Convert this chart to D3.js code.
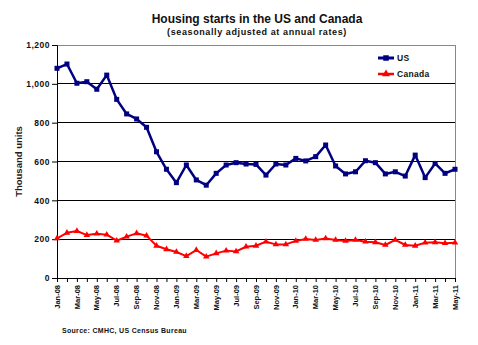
<!DOCTYPE html>
<html>
<head>
<meta charset="utf-8">
<script src="https://d3js.org/d3.v7.min.js"></script>
<style>
  body { margin: 0; background: #fff; }
  svg text { font-family: "Liberation Sans", Arial, sans-serif; font-weight: bold; }
</style>
</head>
<body>
<div id="chart"></div>
<script>
// Monthly housing starts, thousand units (SAAR)
const months = ["Jan-08","Feb-08","Mar-08","Apr-08","May-08","Jun-08","Jul-08","Aug-08","Sep-08","Oct-08","Nov-08","Dec-08",
  "Jan-09","Feb-09","Mar-09","Apr-09","May-09","Jun-09","Jul-09","Aug-09","Sep-09","Oct-09","Nov-09","Dec-09",
  "Jan-10","Feb-10","Mar-10","Apr-10","May-10","Jun-10","Jul-10","Aug-10","Sep-10","Oct-10","Nov-10","Dec-10",
  "Jan-11","Feb-11","Mar-11","Apr-11","May-11"];

const usStarts = [1080, 1102, 1003, 1011, 972, 1045, 920, 845, 819, 776, 650, 560,
  491, 582, 505, 478, 539, 582, 594, 587, 585, 530, 587, 582,
  616, 603, 625, 685, 577, 536, 547, 604, 594, 536, 547, 525,
  633, 517, 590, 539, 560];

const canadaStarts = [204, 233, 242, 221, 228, 223, 192, 213, 230, 218, 166, 148,
  134, 113, 144, 110, 127, 141, 137, 161, 166, 187, 173, 173,
  191, 201, 196, 204, 196, 191, 196, 187, 184, 170, 196, 170,
  166, 182, 184, 179, 182];

const yTicks = [0, 200, 400, 600, 800, 1000, 1200];

const W = 478, H = 345;
const m = { left: 57, right: 23, top: 45, bottom: 67 };

const svg = d3.select('#chart').append('svg')
  .attr('width', W).attr('height', H);

const x = d3.scalePoint().domain(months).range([m.left, W - m.right]);
const y = d3.scaleLinear().domain([0, 1200]).range([H - m.bottom, m.top]);

// Titles
svg.append('text').attr('x', 257).attr('y', 23).attr('text-anchor', 'middle')
  .attr('font-size', 12).attr('fill', '#111').text('Housing starts in the US and Canada');
svg.append('text').attr('x', 257).attr('y', 35).attr('text-anchor', 'middle')
  .attr('font-size', 9).attr('letter-spacing', 0.6).attr('fill', '#111')
  .text('(seasonally adjusted at annual rates)');

// Gridlines
svg.append('g').selectAll('line')
  .data(yTicks.filter(d => d > 0 && d < 1200))
  .join('line')
  .attr('x1', m.left).attr('x2', W - m.right)
  .attr('y1', d => y(d)).attr('y2', d => y(d))
  .attr('stroke', '#000').attr('stroke-width', 1).attr('shape-rendering', 'crispEdges');

// Plot frame: top and right in grey
svg.append('path')
  .attr('d', `M${m.left},${y(1200)}H${W - m.right}V${y(0)}`)
  .attr('fill', 'none').attr('stroke', '#888').attr('shape-rendering', 'crispEdges');

// Y axis
const yAxis = svg.append('g')
  .attr('transform', `translate(${m.left},0)`)
  .call(d3.axisLeft(y).tickValues(yTicks).tickSize(5).tickPadding(2).tickFormat(d3.format(',')));
yAxis.select('.domain').attr('stroke', '#000');
yAxis.selectAll('line').attr('stroke', '#000');
yAxis.selectAll('text').attr('font-size', 8.5).attr('letter-spacing', 0.5).attr('fill', '#111')
  .attr('font-family', '"Liberation Sans", Arial, sans-serif');

svg.append('text')
  .attr('transform', `translate(22,${(y(0) + y(1200)) / 2}) rotate(-90)`)
  .attr('text-anchor', 'middle').attr('font-size', 9.5).attr('fill', '#2a1a1a')
  .text('Thousand units');

// X axis
const xAxis = svg.append('g')
  .attr('transform', `translate(0,${y(0)})`)
  .call(d3.axisBottom(x).tickSize(4).tickFormat(''));
xAxis.select('.domain').attr('d', `M${m.left},0.5H${W - m.right}`).attr('stroke', '#000');
xAxis.selectAll('line').attr('stroke', '#000');

svg.append('g').selectAll('text')
  .data(months.filter((d, i) => i % 2 === 0))
  .join('text')
  .attr('transform', d => `translate(${x(d)},${y(0) + 7}) rotate(-90)`)
  .attr('text-anchor', 'end').attr('dy', '0.35em')
  .attr('font-size', 7.5).attr('fill', '#111')
  .text(d => d);

// Series
const series = [
  { name: 'US', values: usStarts, color: '#000080', width: 2.5, marker: 'square' },
  { name: 'Canada', values: canadaStarts, color: '#ff0000', width: 2, marker: 'triangle' }
];

const line = d3.line().x((d, i) => x(months[i])).y(d => y(d));

function drawMarker(g, s, size) {
  if (s.marker === 'square') {
    return g.append('rect')
      .attr('x', -size / 2).attr('y', -size / 2)
      .attr('width', size).attr('height', size)
      .attr('fill', s.color);
  }
  return g.append('path')
    .attr('d', d3.symbol(d3.symbolTriangle, size * size * 0.9)())
    .attr('fill', s.color);
}

series.slice().reverse().forEach(s => {
  svg.append('path')
    .datum(s.values)
    .attr('d', line)
    .attr('fill', 'none')
    .attr('stroke', s.color)
    .attr('stroke-width', s.width)
    .attr('stroke-linejoin', 'round');

  svg.append('g').selectAll('g')
    .data(s.values)
    .join('g')
    .attr('transform', (d, i) => `translate(${x(months[i])},${y(d)})`)
    .each(function() { drawMarker(d3.select(this), s, s.marker === 'square' ? 5 : 4.5); });
});

// Legend
const legend = svg.append('g').attr('transform', 'translate(378,58)');
series.forEach((s, i) => {
  const row = legend.append('g').attr('transform', `translate(0,${i * 16})`);
  row.append('line').attr('x1', 0).attr('x2', 16).attr('y1', 0).attr('y2', 0)
    .attr('stroke', s.color).attr('stroke-width', s.width + 0.5);
  drawMarker(row.append('g').attr('transform', 'translate(8,0)'), s, 5.5);
  row.append('text').attr('x', 19).attr('y', 0).attr('dy', '0.35em')
    .attr('font-size', 8.5).attr('letter-spacing', 0.3).attr('fill', '#111').text(s.name);
});

// Source note
svg.append('text').attr('x', 62).attr('y', 333)
  .attr('font-size', 7).attr('letter-spacing', 0.3).attr('fill', '#111')
  .text('Source: CMHC, US Census Bureau');
</script>
</body>
</html>
